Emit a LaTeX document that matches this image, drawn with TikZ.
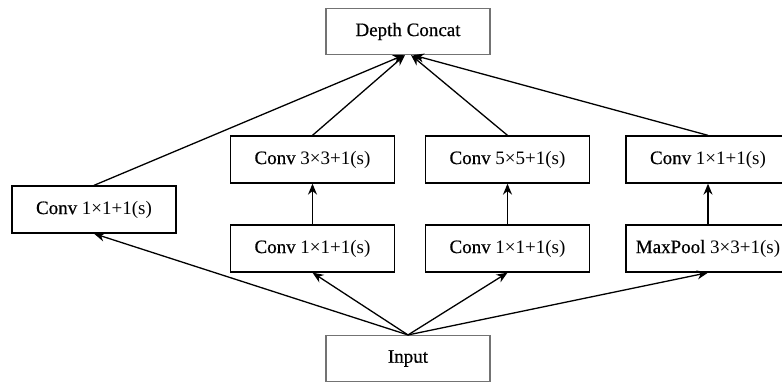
\documentclass[tikz,border=0pt]{standalone}
\usepackage{fontspec}
\setmainfont{Liberation Serif}
\newfontface\wf{Liberation Serif}[FakeBold=0.6]
\usetikzlibrary{arrows.meta}
\begin{document}
\begin{tikzpicture}[x=1pt,y=-1pt,
  box/.style={draw=black,line width=1.3pt,minimum width=164pt,minimum height=47pt,inner sep=0pt,font=\fontsize{19}{22}\selectfont},
  gbox/.style={draw=black!55,line width=1.1pt,minimum width=164pt,minimum height=46pt,inner sep=0pt,font=\fontsize{19}{22}\selectfont},
  arr/.style={line width=1.3pt,-{Stealth[length=11pt,width=9pt]}}]
\useasboundingbox (0,0) rectangle (782,383);
\node[gbox] (DC) at (408,31.5) {{\wf Depth Concat}};
\node[gbox] (IN) at (408,358.5) {{\wf Input}};
\node[box] (L) at (94,209.5) {{\wf Conv} 1×1+1(s)};
\node[box] (A3) at (312.5,159.5) {{\wf Conv} 3×3+1(s)};
\node[box] (A5) at (507.5,159.5) {{\wf Conv} 5×5+1(s)};
\node[box] (AR) at (708,159.5) {{\wf Conv} 1×1+1(s)};
\node[box] (B1) at (312.5,248.5) {{\wf Conv} 1×1+1(s)};
\node[box] (B2) at (507.5,248.5) {{\wf Conv} 1×1+1(s)};
\node[box] (MP) at (708,248.5) {{\wf MaxPool} 3×3+1(s)};
\draw[arr] (L.north) -- ([xshift=-4pt]DC.south);
\draw[arr] (A3.north) -- ([xshift=-3pt]DC.south);
\draw[arr] (A5.north) -- ([xshift=3pt]DC.south);
\draw[arr] (AR.north) -- ([xshift=5pt]DC.south);
\draw[arr] (B1.north) -- (A3.south);
\draw[arr] (B2.north) -- (A5.south);
\draw[arr] (MP.north) -- (AR.south);
\draw[arr] (IN.north) -- (L.south);
\draw[arr] (IN.north) -- (B1.south);
\draw[arr] (IN.north) -- (B2.south);
\draw[arr] (IN.north) -- (MP.south);
\end{tikzpicture}
\end{document}
